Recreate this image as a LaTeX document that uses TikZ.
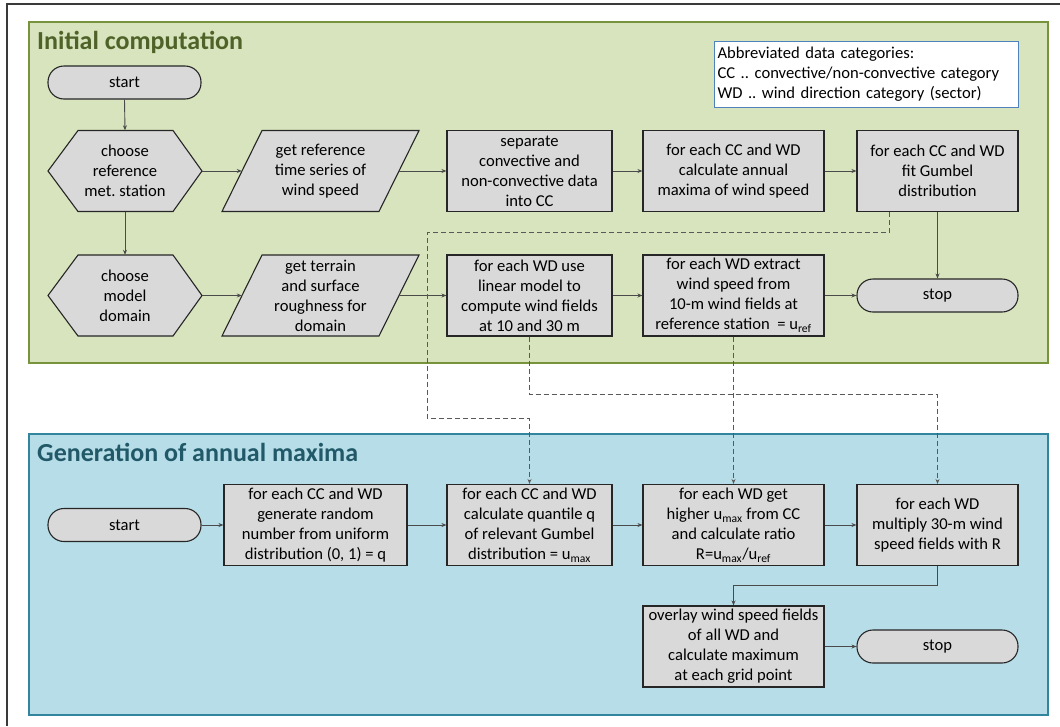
\documentclass[tikz,border=0pt]{standalone}
\usepackage{fontspec}
\setmainfont{Carlito}
\usetikzlibrary{arrows.meta,calc}
\definecolor{gfill}{HTML}{D7E4BD}
\definecolor{gline}{HTML}{77933C}
\definecolor{gtitle}{HTML}{4F6228}
\definecolor{bfill}{HTML}{B7DEE8}
\definecolor{bline}{HTML}{31859C}
\definecolor{btitle}{HTML}{215968}
\definecolor{boxfill}{HTML}{D9D9D9}
\definecolor{boxline}{HTML}{262626}
\definecolor{cline}{HTML}{4A4A4A}
\definecolor{dline}{HTML}{595959}
\definecolor{legline}{HTML}{4F81BD}
\definecolor{frameline}{HTML}{3A3A3A}
\newcommand{\boxfont}{\fontsize{16.6}{20}\selectfont}
\newcommand{\titlefont}{\fontsize{26}{30}\selectfont\bfseries}
\frenchspacing
\begin{document}
\begin{tikzpicture}[x=1pt,y=-1pt,
  panelg/.style={draw=gline,fill=gfill,line width=1.3pt},
  panelb/.style={draw=bline,fill=bfill,line width=1.3pt},
  proc/.style={draw=boxline,fill=boxfill,line width=1.1pt,inner sep=0pt,align=center,font=\boxfont,minimum height=81pt,minimum width=#1},
  term/.style={draw=boxline,fill=boxfill,line width=1.1pt,inner sep=0pt,rounded corners=16pt,minimum height=33pt,minimum width=#1,font=\boxfont},
  txtonly/.style={inner sep=0pt,align=center,font=\boxfont,minimum height=81pt,minimum width=#1},
  shapeline/.style={draw=boxline,fill=boxfill,line width=1.1pt},
  conn/.style={draw=cline,line width=0.9pt,-{Stealth[length=5pt,width=4pt]}},
  dconn/.style={draw=dline,line width=0.9pt,dash pattern=on 5pt off 3pt,-{Stealth[length=5pt,width=4pt]}},
  ptitle/.style={anchor=base west,inner sep=0pt,font=\titlefont}]
\useasboundingbox (0,0) rectangle (1060,726);
% outer frame (only top and left edges visible)
\draw[frameline,line width=1.6pt] (7,726) -- (7,4) -- (1060,4);
% panels
\draw[panelg] (29,22) rectangle (1048,363);
\draw[panelb] (29,434) rectangle (1048,715);
\node[ptitle,text=gtitle] (t1) at (37,49) {Initial computation};
\node[ptitle,text=btitle] (t2) at (37,461) {Generation of annual maxima};
% legend
\node[draw=legline,fill=white,line width=1pt,anchor=north west,text width=298pt,inner xsep=3pt,inner ysep=2pt,minimum height=66pt,align=left,font=\boxfont] (leg) at (714,41)
  {Abbreviated data categories:\\CC .. convective/non-convective category\\WD .. wind direction category (sector)};
% hexagons and parallelograms (shapes)
\draw[shapeline] (48,171) -- (78,130.5) -- (173,130.5) -- (202,171) -- (173,211.5) -- (78,211.5) -- cycle;
\draw[shapeline] (48,295.5) -- (78,255) -- (173,255) -- (202,295.5) -- (173,336) -- (78,336) -- cycle;
\draw[shapeline] (262,130.5) -- (419,130.5) -- (379,211.5) -- (222,211.5) -- cycle;
\draw[shapeline] (262,255) -- (419,255) -- (379,336) -- (222,336) -- cycle;
% top panel nodes
\node[term=153pt] (start1) at (124.5,82.5) {start};
\node[txtonly=154pt] (hex1) at (125,171) {choose\\reference\\met. station};
\node[txtonly=157pt] (para1) at (320.5,171) {get reference\\time series of\\wind speed};
\node[proc=165pt] (sep) at (529.5,171) {separate\\convective and\\non-convective data\\into CC};
\node[proc=181pt] (annual) at (733.5,171) {for each CC and WD\\calculate annual\\maxima of wind speed};
\node[proc=161pt] (gumbel) at (937.5,171) {for each CC and WD\\fit Gumbel\\distribution};
\node[txtonly=154pt] (hex2) at (125,295.5) {choose\\model\\domain};
\node[txtonly=157pt] (para2) at (320.5,295.5) {get terrain\\and surface\\roughness for\\domain};
\node[proc=165pt] (linear) at (529.5,295.5) {for each WD use\\linear model to\\compute wind fields\\at 10 and 30 m};
\node[proc=181pt] (extract) at (733.5,295.5) {for each WD extract\\wind speed from\\10-m wind fields at\\reference station~ = u\textsubscript{ref}};
\node[term=161pt] (stop1) at (937.5,295.5) {stop};
% bottom panel nodes
\node[term=153pt] (start2) at (124.5,525) {start};
\node[proc=183pt] (gen) at (315.5,525) {for each CC and WD\\generate random\\number from uniform\\distribution (0, 1) = q};
\node[proc=165pt] (quant) at (529.5,525) {for each CC and WD\\calculate quantile q\\of relevant Gumbel\\distribution = u\textsubscript{max}};
\node[proc=181pt] (ratio) at (733.5,525) {for each WD get\\higher u\textsubscript{max} from CC\\and calculate ratio\\R=u\textsubscript{max}/u\textsubscript{ref}};
\node[proc=161pt] (mult) at (937.5,525) {for each WD\\multiply 30-m wind\\speed fields with R};
\node[proc=181pt] (overlay) at (733.5,646.5) {overlay wind speed fields\\of all WD and\\calculate maximum\\at each grid point};
\node[term=161pt] (stop2) at (937.5,646.5) {stop};
% solid connectors, top
\draw[conn] (start1.south) -- (hex1.north);
\draw[conn] (hex1.south) -- (hex2.north);
\draw[conn] (hex1.east) -- (para1.west);
\draw[conn] (para1.east) -- (sep.west);
\draw[conn] (sep.east) -- (annual.west);
\draw[conn] (annual.east) -- (gumbel.west);
\draw[conn] (hex2.east) -- (para2.west);
\draw[conn] (para2.east) -- (linear.west);
\draw[conn] (linear.east) -- (extract.west);
\draw[conn] (extract.east) -- (stop1.west);
\draw[conn] (gumbel.south) -- (stop1.north);
% dashed connectors
\draw[dconn] ([xshift=-48.5pt]gumbel.south) -- ++(0,20.5) -| (427,418) -| (quant.north);
\draw[dconn] (linear.south) -- ++(0,58) -| (mult.north);
\draw[dconn] (extract.south) -- (ratio.north);
% solid connectors, bottom
\draw[conn] (start2.east) -- (gen.west);
\draw[conn] (gen.east) -- (quant.west);
\draw[conn] (quant.east) -- (ratio.west);
\draw[conn] (ratio.east) -- (mult.west);
\draw[conn] (mult.south) -- ++(0,19) -| (overlay.north);
\draw[conn] (overlay.east) -- (stop2.west);
\end{tikzpicture}
\end{document}
